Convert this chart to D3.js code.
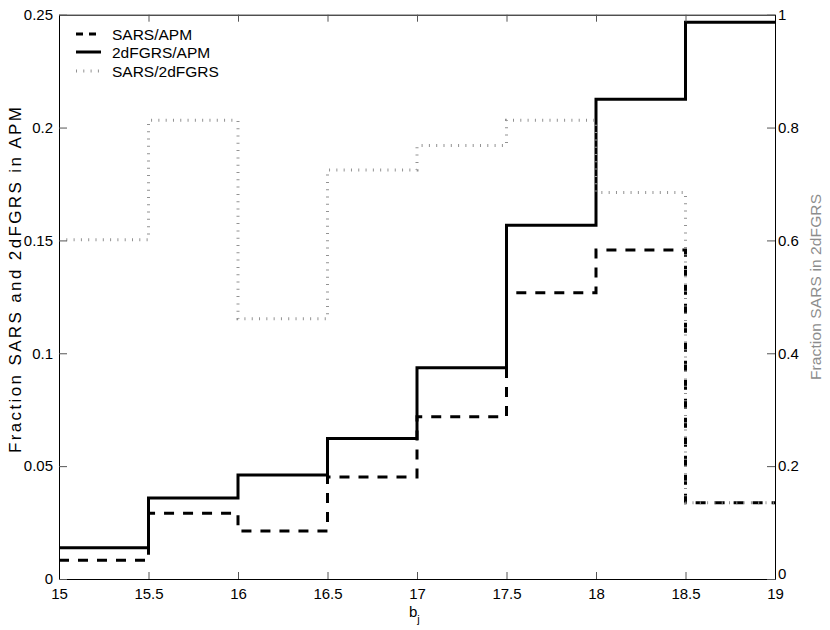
<!DOCTYPE html>
<html>
<head>
<meta charset="utf-8">
<script src="https://cdn.jsdelivr.net/npm/d3@7"></script>
<style>
  html, body { margin: 0; padding: 0; background: #fff; }
  svg { display: block; font-family: "Liberation Sans", Arial, Helvetica, sans-serif; }
</style>
</head>
<body>
<svg id="chart" width="830" height="630"></svg>
<script>
// ---- data ----
const binEdges = [15, 15.5, 16, 16.5, 17, 17.5, 18, 18.5, 19];
const sarsApm   = [0.0083, 0.0291, 0.0213, 0.0452, 0.0719, 0.1268, 0.1458, 0.0338];
const twodfApm  = [0.0139, 0.0359, 0.0461, 0.0622, 0.0936, 0.1567, 0.2125, 0.2466];
const sars2df   = [0.601, 0.813, 0.461, 0.725, 0.768, 0.813, 0.685, 0.135];
const xTicks = [15, 15.5, 16, 16.5, 17, 17.5, 18, 18.5, 19];
const xTickLabels = ["15", "15.5", "16", "16.5", "17", "17.5", "18", "18.5", "19"];
const yLeftTicks = [0, 0.05, 0.1, 0.15, 0.2, 0.25];
const yLeftLabels = ["0", "0.05", "0.1", "0.15", "0.2", "0.25"];
const yRightTicks = [0, 0.2, 0.4, 0.6, 0.8, 1];
const yRightLabels = ["0", "0.2", "0.4", "0.6", "0.8", "1"];
const seriesNames = ["SARS/APM", "2dFGRS/APM", "SARS/2dFGRS"];

// ---- layout ----
const L = 59, R = 775, T = 14.7, B = 579;
const svg = d3.select("#chart");
const x = d3.scaleLinear().domain([15, 19]).range([L, R]);
const yL = d3.scaleLinear().domain([0, 0.25]).range([B, T]);
const yR = d3.scaleLinear().domain([0, 1]).range([B, T]);

function stepPoints(vals) {
  const pts = vals.map((v, i) => [binEdges[i], v]);
  pts.push([binEdges[binEdges.length - 1], vals[vals.length - 1]]);
  return pts;
}
const lineL = d3.line().x(d => x(d[0])).y(d => yL(d[1])).curve(d3.curveStepAfter);
const lineR = d3.line().x(d => x(d[0])).y(d => yR(d[1])).curve(d3.curveStepAfter);

const styles = [
  { color: "#000", width: 3, dash: "10,9" },
  { color: "#000", width: 3, dash: null },
  { color: "#929292", width: 3, dash: "1,6.3" }
];

// ---- series ----
const plot = svg.append("g");
plot.append("path").attr("d", lineL(stepPoints(sarsApm)))
  .attr("fill", "none").attr("stroke", styles[0].color).attr("stroke-width", styles[0].width)
  .attr("stroke-dasharray", styles[0].dash);
plot.append("path").attr("d", lineL(stepPoints(twodfApm)))
  .attr("fill", "none").attr("stroke", styles[1].color).attr("stroke-width", styles[1].width);
plot.append("path").attr("d", lineR(stepPoints(sars2df)))
  .attr("fill", "none").attr("stroke", styles[2].color).attr("stroke-width", styles[2].width)
  .attr("stroke-dasharray", styles[2].dash);

// ---- axes ----
function styleAxis(g) {
  g.selectAll(".domain").attr("stroke", "#000").attr("stroke-width", 1);
  g.selectAll(".tick line").attr("stroke", "#555").attr("stroke-width", 1);
  g.selectAll("text").attr("fill", "#000").style("font-size", "15px")
    .style("font-family", "'Liberation Sans', Arial, sans-serif");
}
const xAxis = svg.append("g").attr("transform", `translate(0,${B})`)
  .call(d3.axisBottom(x).tickValues(xTicks).tickFormat((d, i) => xTickLabels[i])
    .tickSizeInner(-7).tickSizeOuter(0).tickPadding(9));
styleAxis(xAxis);
const xTop = svg.append("g").attr("transform", `translate(0,${T})`)
  .call(d3.axisTop(x).tickValues(xTicks).tickFormat("").tickSizeInner(-7).tickSizeOuter(0));
styleAxis(xTop);
const yAxisL = svg.append("g").attr("transform", `translate(${L},0)`)
  .call(d3.axisLeft(yL).tickValues(yLeftTicks).tickFormat((d, i) => yLeftLabels[i])
    .tickSizeInner(-8).tickSizeOuter(0).tickPadding(6));
styleAxis(yAxisL);
const yAxisR = svg.append("g").attr("transform", `translate(${R},0)`)
  .call(d3.axisRight(yR).tickValues(yRightTicks).tickFormat((d, i) => yRightLabels[i])
    .tickSizeInner(-8).tickSizeOuter(0).tickPadding(3));
styleAxis(yAxisR);
// lift the right-hand "0" slightly so it sits above the "19" label, as in the reference
yAxisR.selectAll(".tick").filter(d => d === 0).select("text").attr("dy", "-0.05em");

// ---- axis labels ----
const xl = svg.append("text").attr("x", 409).attr("y", 617)
  .style("font-size", "15px").attr("fill", "#000");
xl.append("tspan").text("b");
xl.append("tspan").attr("dy", 6).style("font-size", "11px").text("j");

svg.append("text").attr("transform", "translate(21,280) rotate(-90)")
  .attr("text-anchor", "middle").style("font-size", "17px").attr("fill", "#000")
  .attr("textLength", 346).attr("lengthAdjust", "spacing")
  .text("Fraction SARS and 2dFGRS in APM");
svg.append("text").attr("transform", "translate(821,287) rotate(-90)")
  .attr("text-anchor", "middle").style("font-size", "15.5px").attr("fill", "#8c8c8c")
  .attr("textLength", 186).attr("lengthAdjust", "spacing")
  .text("Fraction SARS in 2dFGRS");

// ---- legend ----
const legY = [34, 52, 71];
const leg = svg.append("g");
seriesNames.forEach((name, i) => {
  const s = styles[i];
  const ln = leg.append("line").attr("x1", 76).attr("x2", 101)
    .attr("y1", legY[i]).attr("y2", legY[i])
    .attr("stroke", s.color).attr("stroke-width", s.width);
  if (i === 0) ln.attr("stroke-dasharray", "7,6");
  if (i === 2) ln.attr("stroke-dasharray", "1,6.3");
  leg.append("text").attr("x", 112).attr("y", legY[i]).attr("dy", "0.36em")
    .style("font-size", "15.5px").attr("fill", "#000").text(name);
});
</script>
</body>
</html>
